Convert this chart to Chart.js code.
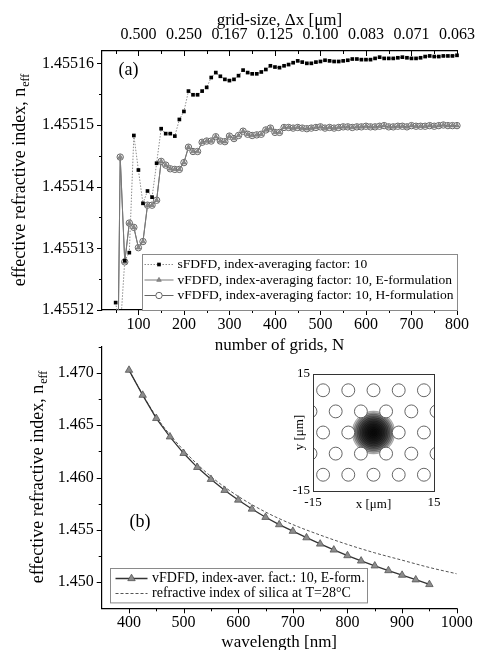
<!DOCTYPE html>
<html>
<head>
<meta charset="utf-8">
<title>Effective index convergence and dispersion</title>
<script src="https://cdn.jsdelivr.net/npm/chart.js@4.4.1/dist/chart.umd.min.js"></script>
<style>
  html, body { margin: 0; padding: 0; background: #fff; width: 480px; height: 650px; overflow: hidden; }
  #wrap { position: relative; width: 480px; height: 650px; }
  canvas { position: absolute; }
  #cvA { left: 0; top: 0; }
  #cvB { left: 0; top: 340px; }
  #cvInset { left: 285px; top: 362px; }
</style>
</head>
<body>
<div id="wrap">
  <canvas id="cvA" width="480" height="356"></canvas>
  <canvas id="cvB" width="480" height="313"></canvas>
  <canvas id="cvInset" width="160" height="150"></canvas>
</div>
<script>
// ---------- panel (a): convergence with number of grids ----------
const N_GRIDS = [
  50, 60, 70, 80, 90, 100, 110, 120, 130, 140,
  150, 160, 170, 180, 190, 200, 210, 220, 230, 240,
  250, 260, 270, 280, 290, 300, 310, 320, 330, 340,
  350, 360, 370, 380, 390, 400, 410, 420, 430, 440,
  450, 460, 470, 480, 490, 500, 510, 520, 530, 540,
  550, 560, 570, 580, 590, 600, 610, 620, 630, 640,
  650, 660, 670, 680, 690, 700, 710, 720, 730, 740,
  750, 760, 770, 780, 790, 800
];

const SFDFD = [
  1.4551212, 1.4551166, 1.4551280, 1.4551293, 1.4551483, 1.4551427, 1.4551373, 1.4551393, 1.4551383, 1.4551438,
  1.4551494, 1.4551486, 1.4551486, 1.4551482, 1.4551509, 1.4551522, 1.4551555, 1.4551549, 1.4551549, 1.4551555,
  1.4551561, 1.4551577, 1.4551585, 1.4551579, 1.4551574, 1.4551572, 1.4551574, 1.4551580, 1.4551589, 1.4551585,
  1.4551583, 1.4551583, 1.4551586, 1.4551590, 1.4551596, 1.4551594, 1.4551593, 1.4551596, 1.4551598, 1.4551601,
  1.4551604, 1.4551602, 1.4551600, 1.4551600, 1.4551602, 1.4551603, 1.4551605, 1.4551604, 1.4551603, 1.4551603,
  1.4551604, 1.4551605, 1.4551607, 1.4551607, 1.4551606, 1.4551606, 1.4551606, 1.4551608, 1.4551610, 1.4551608,
  1.4551608, 1.4551608, 1.4551609, 1.4551610, 1.4551609, 1.4551608, 1.4551608, 1.4551609, 1.4551611, 1.4551612,
  1.4551611, 1.4551611, 1.4551612, 1.4551612, 1.4551612, 1.4551613
];

const VFDFD_H = [
  1.4550800, 1.4551448, 1.4551278, 1.4551341, 1.4551334, 1.4551301, 1.4551311, 1.4551370, 1.4551370, 1.4551378,
  1.4551441, 1.4551435, 1.4551429, 1.4551428, 1.4551428, 1.4551439, 1.4551464, 1.4551457, 1.4551457, 1.4551472,
  1.4551474, 1.4551474, 1.4551481, 1.4551474, 1.4551473, 1.4551482, 1.4551478, 1.4551483, 1.4551490, 1.4551485,
  1.4551483, 1.4551484, 1.4551485, 1.4551492, 1.4551495, 1.4551488, 1.4551488, 1.4551496, 1.4551496, 1.4551495,
  1.4551496, 1.4551495, 1.4551494, 1.4551495, 1.4551496, 1.4551497, 1.4551495, 1.4551496, 1.4551495, 1.4551496,
  1.4551497, 1.4551497, 1.4551496, 1.4551497, 1.4551497, 1.4551498, 1.4551497, 1.4551497, 1.4551498, 1.4551499,
  1.4551497, 1.4551497, 1.4551498, 1.4551498, 1.4551497, 1.4551499, 1.4551498, 1.4551498, 1.4551498, 1.4551499,
  1.4551498, 1.4551499, 1.4551500, 1.4551499, 1.4551499, 1.4551499
];
// E- and H-formulation results coincide at plotting accuracy
const VFDFD_E = VFDFD_H;

const N_MAJOR = [100, 200, 300, 400, 500, 600, 700, 800];
const N_MINOR = [50, 150, 250, 350, 450, 550, 650, 750];
const DX_LABELS = ['0.500', '0.250', '0.167', '0.125', '0.100', '0.083', '0.071', '0.063'];
const NEFF_TICKS_A = [1.45512, 1.45513, 1.45514, 1.45515, 1.45516];
const NEFF_MINOR_A = [1.455125, 1.455135, 1.455145, 1.455155];

// ---------- panel (b): dispersion ----------
const LAMBDA_E = [400, 425, 450, 475, 500, 525, 550, 575, 600, 625, 650, 675,
                  700, 725, 750, 775, 800, 825, 850, 875, 900, 925, 950];
const NEFF_E = [1.47026, 1.46787, 1.46565, 1.46389, 1.46231, 1.46097, 1.45983, 1.45878,
                1.45785, 1.45699, 1.45620, 1.45550, 1.45487, 1.45425, 1.45365, 1.45308,
                1.45254, 1.45203, 1.45156, 1.45111, 1.45067, 1.45023, 1.44978];

const LAMBDA_SILICA = [400, 450, 500, 550, 600, 650, 700, 750, 800, 850, 900, 950, 1000];
const N_SILICA = [1.4702, 1.4658, 1.4626, 1.4601, 1.4582, 1.4567, 1.4555, 1.4545,
                  1.4536, 1.4528, 1.4521, 1.4514, 1.4508];

const LAMBDA_MAJOR = [400, 500, 600, 700, 800, 900, 1000];
const LAMBDA_MINOR = [450, 550, 650, 750, 850, 950];
const NEFF_TICKS_B = [1.450, 1.455, 1.460, 1.465, 1.470];
const NEFF_MINOR_B = [1.4525, 1.4575, 1.4625, 1.4675, 1.4725];

// ---------- inset: fibre cross-section (um) ----------
const HOLE_X = [-12.5, -6.25, 0, 6.25, 12.5,
                -15.625, -9.375, -3.125, 3.125, 9.375, 15.625,
                -12.5, -6.25, 6.25, 12.5,
                -15.625, -9.375, -3.125, 3.125, 9.375, 15.625,
                -12.5, -6.25, 0, 6.25, 12.5];
const HOLE_Y = [10.83, 10.83, 10.83, 10.83, 10.83,
                5.41, 5.41, 5.41, 5.41, 5.41, 5.41,
                0, 0, 0, 0,
                -5.41, -5.41, -5.41, -5.41, -5.41, -5.41,
                -10.83, -10.83, -10.83, -10.83, -10.83];
const HOLE_RADIUS = 1.6;
const MODE_CONTOURS = [5.3, 4.9, 4.5, 4.1, 3.7, 3.3, 2.9, 2.5, 2.1, 1.7, 1.3, 0.9, 0.5];
const INSET_TICKS = [-15, 15];

// ---------- shared bits ----------
const FONT = '"Liberation Serif", "Times New Roman", serif';
Chart.defaults.font.family = FONT;
Chart.defaults.font.size = 16;
Chart.defaults.color = '#000';

const xy = (xs, ys) => xs.map((x, i) => ({ x: x, y: ys[i] }));
const fixTicks = vals => scale => { scale.ticks = vals.map(v => ({ value: v })); };
const AXIS_LINE = { display: true, color: '#000', width: 1.2 };

// short tick marks on the outside (or inside, with negative len) of the plot frame
const tickMarks = {
  id: 'tickMarks',
  afterDraw(chart, args, opts) {
    const { ctx, chartArea: a } = chart;
    ctx.save();
    ctx.strokeStyle = '#000';
    ctx.lineWidth = 1;
    for (const set of opts.sets || []) {
      const s = chart.scales[set.scale];
      ctx.beginPath();
      for (const v of set.values) {
        const p = Math.round(s.getPixelForValue(v)) + 0.5;
        if (set.edge === 'bottom') { ctx.moveTo(p, a.bottom); ctx.lineTo(p, a.bottom + set.len); }
        else if (set.edge === 'top') { ctx.moveTo(p, a.top); ctx.lineTo(p, a.top - set.len); }
        else { ctx.moveTo(a.left, p); ctx.lineTo(a.left - set.len, p); }
      }
      ctx.stroke();
    }
    ctx.restore();
  }
};

// rotated y title with "eff" subscript
const yTitle = {
  id: 'yTitle',
  afterDraw(chart, args, o) {
    if (!o.text) return;
    const { ctx, chartArea: a } = chart;
    ctx.save();
    ctx.translate(o.x, (a.top + a.bottom) / 2);
    ctx.rotate(-Math.PI / 2);
    ctx.fillStyle = '#000';
    ctx.textBaseline = 'middle';
    ctx.textAlign = 'left';
    ctx.font = o.size + 'px ' + FONT;
    const w1 = ctx.measureText(o.text).width;
    ctx.font = o.subSize + 'px ' + FONT;
    const w2 = ctx.measureText(o.sub).width;
    const x0 = -(w1 + w2) / 2;
    ctx.font = o.size + 'px ' + FONT;
    ctx.fillText(o.text, x0, 0);
    ctx.font = o.subSize + 'px ' + FONT;
    ctx.fillText(o.sub, x0 + w1 + 1, o.size * 0.3);
    ctx.restore();
  }
};

// panel letter placed in data coordinates
const panelTag = {
  id: 'panelTag',
  afterDraw(chart, args, o) {
    if (!o.text) return;
    const { ctx, scales } = chart;
    ctx.save();
    ctx.font = '18px ' + FONT;
    ctx.fillStyle = '#000';
    ctx.textAlign = 'center';
    ctx.textBaseline = 'middle';
    ctx.fillText(o.text, scales.x.getPixelForValue(o.x), scales.y.getPixelForValue(o.y));
    ctx.restore();
  }
};

// framed legend sitting in the lower part of the plot
const boxLegend = {
  id: 'boxLegend',
  afterDraw(chart, args, o) {
    if (!o.rows) return;
    const { ctx, chartArea: a } = chart;
    const left = Math.round(a.left + o.left) + 0.5;
    const top = Math.round(a.bottom - o.bottom - o.height) + 0.5;
    ctx.save();
    ctx.fillStyle = '#fff';
    ctx.fillRect(left, top, o.width, o.height);
    ctx.strokeStyle = '#8a8a8a';
    ctx.lineWidth = 1;
    ctx.strokeRect(left, top, o.width, o.height);
    ctx.font = o.size + 'px ' + FONT;
    ctx.textBaseline = 'middle';
    ctx.textAlign = 'left';
    o.rows.forEach((idx, i) => {
      const d = chart.data.datasets[idx];
      const y = top + o.firstRow + i * o.rowGap;
      ctx.strokeStyle = d.borderColor;
      ctx.lineWidth = d.borderWidth;
      ctx.setLineDash(d.borderDash || []);
      ctx.beginPath();
      ctx.moveTo(left + o.lineFrom, y);
      ctx.lineTo(left + o.lineTo, y);
      ctx.stroke();
      ctx.setLineDash([]);
      if (d.pointRadius > 0) {
        ctx.fillStyle = d.pointBackgroundColor;
        ctx.strokeStyle = d.pointBorderColor;
        ctx.lineWidth = d.pointBorderWidth;
        Chart.helpers.drawPoint(ctx, {
          pointStyle: d.pointStyle, radius: d.pointRadius,
          borderWidth: d.pointBorderWidth, rotation: 0
        }, left + (o.lineFrom + o.lineTo) / 2, y);
      }
      ctx.fillStyle = '#000';
      ctx.fillText(d.label, left + o.textX, y);
    });
    ctx.restore();
  }
};

// plain rectangle round the inset
const frame = {
  id: 'frame',
  afterDraw(chart, args, o) {
    if (!o.color) return;
    const { ctx, chartArea: a } = chart;
    ctx.save();
    ctx.strokeStyle = o.color;
    ctx.lineWidth = 1;
    ctx.strokeRect(Math.round(a.left) + 0.5, Math.round(a.top) + 0.5,
                   Math.round(a.right - a.left), Math.round(a.bottom - a.top));
    ctx.restore();
  }
};

const PLUGINS = [tickMarks, yTitle, panelTag, boxLegend, frame];

// ---------- chart (a) ----------
new Chart(document.getElementById('cvA'), {
  type: 'line',
  data: {
    datasets: [
      {
        label: 'sFDFD, index-averaging factor: 10',
        data: xy(N_GRIDS, SFDFD),
        xAxisID: 'x', yAxisID: 'y',
        borderColor: '#8c8c8c', borderWidth: 1, borderDash: [1.5, 1.5],
        pointStyle: 'rect', pointRadius: 2.6, pointBorderWidth: 0,
        pointBackgroundColor: '#000', pointBorderColor: '#000',
        clip: { left: 6, right: 6, top: 6, bottom: 0 },
        order: 0
      },
      {
        label: 'vFDFD, index-averaging factor: 10, E-formulation',
        data: xy(N_GRIDS, VFDFD_E),
        xAxisID: 'x', yAxisID: 'y',
        borderColor: '#7a7a7a', borderWidth: 1,
        pointStyle: 'triangle', pointRadius: 2.6, pointBorderWidth: 0.8,
        pointBackgroundColor: '#8a8a8a', pointBorderColor: '#777',
        clip: { left: 6, right: 6, top: 6, bottom: 0 },
        order: 1
      },
      {
        label: 'vFDFD, index-averaging factor: 10, H-formulation',
        data: xy(N_GRIDS, VFDFD_H),
        xAxisID: 'x', yAxisID: 'y',
        borderColor: '#666', borderWidth: 1,
        pointStyle: 'circle', pointRadius: 3.2, pointBorderWidth: 1,
        pointBackgroundColor: '#fff', pointBorderColor: '#666',
        clip: { left: 6, right: 6, top: 6, bottom: 0 },
        order: 2
      }
    ]
  },
  options: {
    responsive: false,
    animation: false,
    devicePixelRatio: 1,
    layout: { autoPadding: false, padding: { left: 0, right: 23, top: 10, bottom: 0 } },
    plugins: {
      legend: { display: false },
      tooltip: { enabled: false },
      tickMarks: {
        sets: [
          { scale: 'x', edge: 'bottom', values: N_MAJOR, len: 5 },
          { scale: 'x', edge: 'bottom', values: N_MINOR, len: 3 },
          { scale: 'xTop', edge: 'top', values: N_MAJOR, len: -5 },
          { scale: 'xTop', edge: 'top', values: N_MINOR, len: -3 },
          { scale: 'y', edge: 'left', values: NEFF_TICKS_A, len: 5 },
          { scale: 'y', edge: 'left', values: NEFF_MINOR_A, len: 3 }
        ]
      },
      yTitle: { text: 'effective refractive index, n', sub: 'eff', x: 20, size: 18, subSize: 12 },
      panelTag: { text: '(a)', x: 78, y: 1.4551589 },
      boxLegend: {
        rows: [0, 1, 2], left: 40, bottom: 0, width: 315, height: 56,
        firstRow: 10, rowGap: 15.5, lineFrom: 2, lineTo: 31, textX: 35, size: 13.5
      }
    },
    scales: {
      x: {
        type: 'linear', position: 'bottom', min: 20, max: 800, bounds: 'data',
        afterBuildTicks: fixTicks(N_MAJOR),
        afterFit: s => { s.height = 46; s.paddingLeft = 0; s.paddingRight = 0; },
        ticks: { padding: 5, maxRotation: 0, autoSkip: false, font: { size: 16 }, callback: v => String(v) },
        grid: { display: false, drawTicks: false },
        border: AXIS_LINE,
        title: { display: true, text: 'number of grids, N', padding: 0, font: { size: 17 } }
      },
      xTop: {
        axis: 'x', type: 'linear', position: 'top', min: 20, max: 800, bounds: 'data',
        afterBuildTicks: fixTicks(N_MAJOR),
        afterFit: s => { s.height = 41; s.paddingLeft = 0; s.paddingRight = 0; },
        ticks: { padding: 7, maxRotation: 0, autoSkip: false, font: { size: 16 },
                 callback: (v, i) => DX_LABELS[i] },
        grid: { display: false, drawTicks: false },
        border: AXIS_LINE,
        title: { display: true, text: 'grid-size, \u0394x [\u03bcm]', padding: 0, font: { size: 17 } }
      },
      y: {
        type: 'linear', position: 'left', min: 1.45512, max: 1.455162, bounds: 'data',
        afterBuildTicks: fixTicks(NEFF_TICKS_A),
        afterFit: s => { s.width = 102; s.paddingTop = 0; s.paddingBottom = 0; },
        ticks: { padding: 8, autoSkip: false, font: { size: 16 }, callback: v => v.toFixed(5) },
        grid: { display: false, drawTicks: false },
        border: AXIS_LINE
      }
    }
  },
  plugins: PLUGINS
});

// ---------- chart (b) ----------
new Chart(document.getElementById('cvB'), {
  type: 'line',
  data: {
    datasets: [
      {
        label: 'vFDFD, index-aver. fact.: 10, E-form.',
        data: xy(LAMBDA_E, NEFF_E),
        borderColor: '#333', borderWidth: 1.3,
        pointStyle: 'triangle', pointRadius: 4.3, pointBorderWidth: 0.8,
        pointBackgroundColor: '#8c8c8c', pointBorderColor: '#555',
        order: 0
      },
      {
        label: 'refractive index of silica at T=28\u00b0C',
        data: xy(LAMBDA_SILICA, N_SILICA),
        borderColor: '#555', borderWidth: 1, borderDash: [3, 2],
        cubicInterpolationMode: 'monotone',
        pointRadius: 0,
        order: 1
      }
    ]
  },
  options: {
    responsive: false,
    animation: false,
    devicePixelRatio: 1,
    layout: { autoPadding: false, padding: { left: 0, right: 23.3, top: 6.7, bottom: 0 } },
    plugins: {
      legend: { display: false },
      tooltip: { enabled: false },
      tickMarks: {
        sets: [
          { scale: 'x', edge: 'bottom', values: LAMBDA_MAJOR, len: 5 },
          { scale: 'x', edge: 'bottom', values: LAMBDA_MINOR, len: 3 },
          { scale: 'y', edge: 'left', values: NEFF_TICKS_B, len: 5 },
          { scale: 'y', edge: 'left', values: NEFF_MINOR_B, len: 3 }
        ]
      },
      yTitle: { text: 'effective refractive index, n', sub: 'eff', x: 38, size: 18, subSize: 12 },
      panelTag: { text: '(b)', x: 420, y: 1.45575 },
      boxLegend: {
        rows: [0, 1], left: 8.3, bottom: 5.6, width: 257, height: 34.4,
        firstRow: 10, rowGap: 15, lineFrom: 5, lineTo: 37, textX: 41.5, size: 14
      }
    },
    scales: {
      x: {
        type: 'linear', position: 'bottom', min: 350, max: 1000, bounds: 'data',
        afterBuildTicks: fixTicks(LAMBDA_MAJOR),
        afterFit: s => { s.height = 44.7; s.paddingLeft = 0; s.paddingRight = 0; },
        ticks: { padding: 5, maxRotation: 0, autoSkip: false, font: { size: 16 }, callback: v => String(v) },
        grid: { display: false, drawTicks: false },
        border: AXIS_LINE,
        title: { display: true, text: 'wavelength [nm]', padding: 0, font: { size: 17 } }
      },
      y: {
        type: 'linear', position: 'left', min: 1.4475, max: 1.4725, bounds: 'data',
        afterBuildTicks: fixTicks(NEFF_TICKS_B),
        afterFit: s => { s.width = 101.7; s.paddingTop = 0; s.paddingBottom = 0; },
        ticks: { padding: 8, autoSkip: false, font: { size: 16 }, callback: v => v.toFixed(3) },
        grid: { display: false, drawTicks: false },
        border: AXIS_LINE
      }
    }
  },
  plugins: PLUGINS
});

// ---------- inset: air holes and guided-mode contours ----------
const umToPx = (chart, r) => chart.scales.x.getPixelForValue(r) - chart.scales.x.getPixelForValue(0);

new Chart(document.getElementById('cvInset'), {
  type: 'scatter',
  data: {
    datasets: [
      {
        data: xy(HOLE_X, HOLE_Y),
        pointRadius: c => umToPx(c.chart, HOLE_RADIUS),
        pointBackgroundColor: '#fff', pointBorderColor: '#555', pointBorderWidth: 0.9,
        clip: 0,
        order: 0
      },
      {
        data: MODE_CONTOURS.map(() => ({ x: 0, y: 0 })),
        pointRadius: c => umToPx(c.chart, MODE_CONTOURS[c.dataIndex]),
        pointBackgroundColor: 'rgba(0,0,0,0.24)', pointBorderColor: 'rgba(0,0,0,0.4)',
        pointBorderWidth: 0.6,
        clip: 0,
        order: 1
      }
    ]
  },
  options: {
    responsive: false,
    animation: false,
    devicePixelRatio: 1,
    layout: { autoPadding: false, padding: { left: 7, right: 11, top: 12, bottom: 0 } },
    plugins: {
      legend: { display: false },
      tooltip: { enabled: false },
      frame: { color: '#333' }
    },
    scales: {
      x: {
        type: 'linear', position: 'bottom', min: -15, max: 15, bounds: 'data',
        afterBuildTicks: fixTicks(INSET_TICKS),
        afterFit: s => { s.height = 21; s.paddingLeft = 0; s.paddingRight = 0; },
        ticks: { padding: 4, maxRotation: 0, autoSkip: false, font: { size: 13 } },
        grid: { display: false, drawTicks: false },
        border: { display: false },
        title: { display: true, text: 'x [\u03bcm]', padding: 0, font: { size: 13 } }
      },
      y: {
        type: 'linear', position: 'left', min: -15, max: 15, bounds: 'data',
        afterBuildTicks: fixTicks(INSET_TICKS),
        afterFit: s => { s.width = 21; s.paddingTop = 0; s.paddingBottom = 0; },
        ticks: { padding: 3, autoSkip: false, font: { size: 13 } },
        grid: { display: false, drawTicks: false },
        border: { display: false },
        title: { display: true, text: 'y [\u03bcm]', padding: 0, font: { size: 13 } }
      }
    }
  },
  plugins: PLUGINS
});
</script>
</body>
</html>
